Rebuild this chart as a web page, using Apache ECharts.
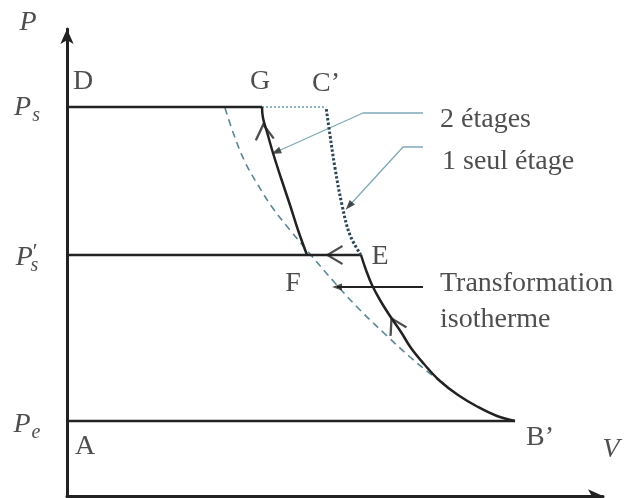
<!DOCTYPE html>
<html>
<head>
<meta charset="utf-8">
<script src="https://cdn.jsdelivr.net/npm/echarts@6/dist/echarts.min.js"></script>
<style>
  html, body { margin: 0; padding: 0; background: #fff; }
  #chart { width: 634px; height: 498px; }
</style>
</head>
<body>
<div id="chart"></div>
<script>
// pressure levels (arbitrary units) and volumes of the named points
const pressureLevels = { pe: 1.5, psPrime: 4.82, ps: 7.78 };
const volumes = { g: 3.9, cPrime: 5.18, f: 4.8, e: 5.88, bPrime: 8.96 };

// one stage compression B' -> E, then two stage F -> G
const curveBE = [
  [8.96, 1.5], [8.6, 1.6], [8.22, 1.78], [7.82, 2.02], [7.46, 2.3], [7.14, 2.64], [6.88, 2.96],
  [6.68, 3.28], [6.46, 3.6], [6.26, 3.92], [6.1, 4.22], [5.98, 4.52], [5.88, 4.82],
];
const curveFG = [
  [4.8, 4.82], [4.62, 5.32], [4.46, 5.82], [4.28, 6.36], [4.12, 6.86], [4.0, 7.28], [3.92, 7.56], [3.9, 7.78],
];
// single stage continuation E -> C'
const curveEC = [
  [5.88, 4.82], [5.66, 5.22], [5.5, 5.82], [5.36, 6.56], [5.26, 7.22], [5.18, 7.78],
];
// isotherm
const isotherm = [
  [3.16, 7.76], [3.34, 7.22], [3.56, 6.68], [3.82, 6.22], [4.1, 5.78], [4.46, 5.32], [4.86, 4.84],
  [5.36, 4.26], [5.86, 3.72], [6.36, 3.24], [6.86, 2.78], [7.32, 2.4], [7.46, 2.3],
];

// direction chevrons on the curves: [V, P, rotation]
const chevrons = [
  [3.94, 7.28, 6],
  [5.36, 4.82, 90],
  [6.56, 3.42, 28],
];

// callouts: polyline then arrow tip rotation
const callout2 = [[7.12, 7.66], [5.92, 7.66], [4.18, 6.88]];
const callout1 = [[7.12, 6.98], [6.72, 6.98], [5.64, 5.8]];
const calloutIso = [[7.12, 4.18], [5.4, 4.18]];
const calloutTips = [
  [4.18, 6.88, 114],
  [5.64, 5.8, 139],
  [5.4, 4.18, 90],
];

// point names
const pointNames = ["D", "G", "C’", "E", "F", "A", "B’"];
const pointPos = [[0.32, 8.28], [3.86, 8.28], [5.18, 8.24], [6.26, 4.78], [4.52, 4.24], [0.36, 0.98], [9.46, 1.16]];

// axis and level labels
const axisTexts = ["{i|P}", "{i|V}", "{i|P}{sub|s}", "{i|P}{pr|′}{sub2|s}", "{i|P}{sub|e}"];
const axisTextPos = [[-0.78, 9.46], [10.88, 0.92], [-0.8, 7.76], [-0.8, 4.76], [-0.8, 1.42]];

// legend style texts on the right
const noteTexts = ["2 étages", "1 seul étage", "Transformation", "isotherme"];
const notePos = [[7.46, 7.52], [7.5, 6.68], [7.46, 4.24], [7.46, 3.52]];

const INK = "#222";
const FONT = "Liberation Serif";

const chart = echarts.init(document.getElementById("chart"));

function lineSeries(data, style) {
  return {
    type: "line",
    data,
    symbol: "none",
    silent: true,
    smooth: style.smooth ?? 0,
    lineStyle: { color: style.color ?? INK, width: style.width ?? 2.5, type: style.type ?? "solid" },
    z: style.z ?? 3,
  };
}

const rich = {
  i: { fontFamily: FONT, fontStyle: "italic", fontSize: 28, color: INK },
  sub: { fontFamily: FONT, fontStyle: "italic", fontSize: 20, color: INK, padding: [16, 0, 0, 1] },
  sub2: { fontFamily: FONT, fontStyle: "italic", fontSize: 20, color: INK, padding: [16, 0, 0, -7] },
  pr: { fontFamily: FONT, fontSize: 22, color: INK, padding: [0, 0, 12, 0] },
};

chart.setOption({
  animation: false,
  backgroundColor: "#fff",
  grid: { left: 67, right: 31, top: 29, bottom: 2 },
  xAxis: {
    type: "value",
    min: 0,
    max: 10.72,
    axisLine: { lineStyle: { color: INK, width: 3 }, symbol: ["none", "arrow"], symbolSize: [10, 15] },
    axisTick: { show: false },
    axisLabel: { show: false },
    splitLine: { show: false },
  },
  yAxis: {
    type: "value",
    min: 0,
    max: 9.34,
    axisLine: { show: true, lineStyle: { color: INK, width: 3 }, symbol: ["none", "arrow"], symbolSize: [10, 15] },
    axisTick: { show: false },
    axisLabel: { show: false },
    splitLine: { show: false },
  },
  series: [
    lineSeries([[0, pressureLevels.pe], [volumes.bPrime, pressureLevels.pe]], {}),
    lineSeries([[0, pressureLevels.psPrime], [volumes.e, pressureLevels.psPrime]], {}),
    lineSeries([[0, pressureLevels.ps], [volumes.g, pressureLevels.ps]], {}),
    lineSeries([[volumes.g, pressureLevels.ps], [volumes.cPrime, pressureLevels.ps]], { color: "#8cb6c4", width: 2, type: [2, 2], z: 2 }),
    lineSeries(isotherm, { color: "#5b8796", width: 1.6, type: [7, 5], smooth: 0.4, z: 2 }),
    lineSeries(curveEC, { color: "#2b4656", width: 3, type: [2.5, 2], smooth: 0.4 }),
    lineSeries(curveFG, { smooth: 0.4 }),
    lineSeries(curveBE, { smooth: 0.4 }),
    lineSeries(callout2, { color: "#7fa9b8", width: 1.3, z: 1 }),
    lineSeries(callout1, { color: "#7fa9b8", width: 1.3, z: 1 }),
    lineSeries(calloutIso, { color: INK, width: 2, z: 1 }),
    {
      type: "scatter",
      silent: true,
      z: 4,
      symbol: "path://M0,16 L9,0 L18,16",
      symbolSize: [18, 15],
      itemStyle: { color: "rgba(0,0,0,0)", borderColor: INK, borderWidth: 2.2 },
      data: chevrons.map((c) => ({ value: [c[0], c[1]], symbolRotate: c[2] })),
    },
    {
      type: "scatter",
      silent: true,
      z: 4,
      symbol: "triangle",
      symbolSize: [7, 10],
      itemStyle: { color: INK },
      data: calloutTips.map((c) => ({ value: [c[0], c[1]], symbolRotate: c[2] })),
    },
    {
      type: "scatter",
      silent: true,
      clip: false,
      symbolSize: 0,
      data: pointNames.map((n, i) => ({ value: pointPos[i], name: n })),
      label: {
        show: true,
        position: "inside",
        formatter: (p) => p.name,
        fontFamily: FONT,
        fontSize: 28,
        color: INK,
      },
    },
    {
      type: "scatter",
      silent: true,
      clip: false,
      symbolSize: 0,
      data: axisTexts.map((n, i) => ({ value: axisTextPos[i], name: n })),
      label: {
        show: true,
        position: "inside",
        formatter: (p) => p.name,
        rich,
      },
    },
    {
      type: "scatter",
      silent: true,
      clip: false,
      symbolSize: 0,
      data: noteTexts.map((n, i) => ({ value: notePos[i], name: n })),
      label: {
        show: true,
        position: "inside",
        align: "left",
        formatter: (p) => p.name,
        fontFamily: FONT,
        fontSize: 28,
        color: INK,
      },
    },
  ],
});
</script>
</body>
</html>
